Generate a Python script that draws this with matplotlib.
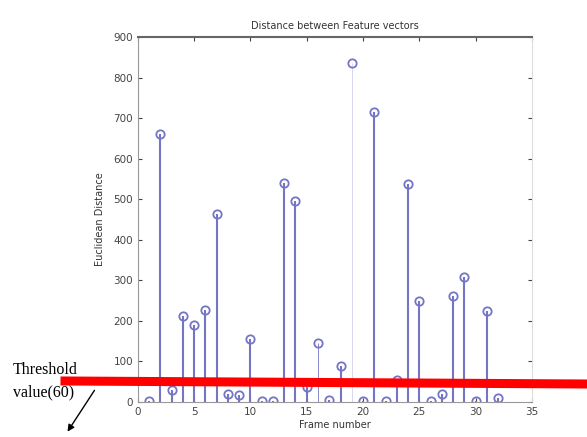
import numpy as np
import matplotlib.pyplot as plt
from matplotlib.lines import Line2D

frames = np.arange(1, 33)
dist = [2, 660, 30, 212, 190, 228, 465, 20, 18, 155, 2, 3, 540, 495, 38, 145,
        5, 88, 835, 3, 715, 2, 55, 538, 250, 3, 20, 262, 308, 2, 225, 10]
threshold = 55

fig = plt.figure(figsize=(5.87, 4.37), dpi=100)
ax = fig.add_axes([0.235, 0.080, 0.671, 0.835])

stem_col = '#7575c8'
ml, sl, bl = ax.stem(frames, dist, basefmt=' ')
plt.setp(ml, marker='o', markersize=6, markerfacecolor='none',
         markeredgecolor=stem_col, markeredgewidth=1.3)
lw = [1.5] * len(frames)
cols = [stem_col] * len(frames)
lw[15] = 0.6
lw[18] = 0.5
cols[18] = '#c8c8ec'
sl.set_linewidths(lw)
sl.set_colors(cols)

ax.set_xlim(0, 35)
ax.set_ylim(0, 900)
ax.set_xticks(np.arange(0, 36, 5))
ax.set_yticks(np.arange(0, 901, 100))
ax.tick_params(direction='in', length=3, labelsize=7.5, colors='#444444',
               top=True, right=True)
for s in ax.spines.values():
    s.set_color('#999999')
ax.spines['top'].set_color('#666666')
ax.spines['top'].set_linewidth(1.5)
ax.spines['right'].set_color('#dddddd')

ax.set_title('Distance between Feature vectors', fontsize=7, color='#333333')
ax.set_xlabel('Frame number', fontsize=7, color='#333333', labelpad=2)
ax.set_ylabel('Euclidean Distance', fontsize=7, color='#333333', labelpad=6)

# threshold marker drawn across the figure
fig.add_artist(Line2D([65 / 587, 1.0], [1 - 381 / 437, 1 - 384 / 437],
                      color='red', linewidth=6.5, transform=fig.transFigure))
fig.text(13 / 587, 1 - 370 / 437, 'Threshold', fontsize=11.5,
         family='Liberation Serif', va='center')
fig.text(13 / 587, 1 - 392 / 437, 'value(60)', fontsize=11.5,
         family='Liberation Serif', va='center')
fig.add_artist(plt.Annotation('', xy=(66 / 587, 1 - 434 / 437),
                              xytext=(96 / 587, 1 - 388 / 437),
                              xycoords='figure fraction',
                              arrowprops=dict(arrowstyle='-|>', color='black', lw=1)))

fig.savefig('out.png')
